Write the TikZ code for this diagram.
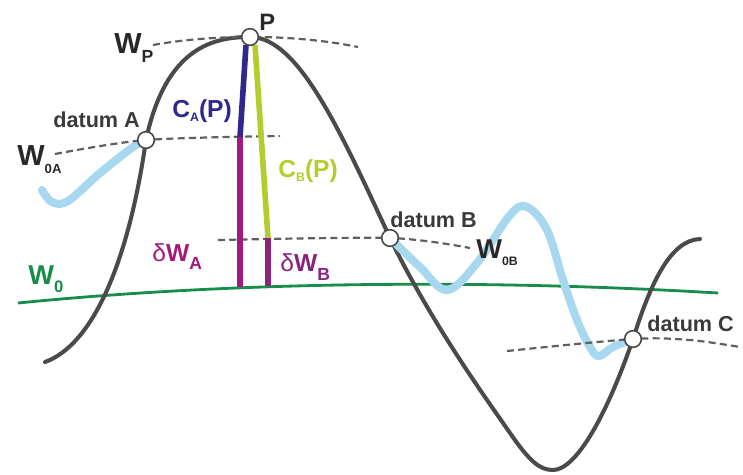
\documentclass[tikz,border=0pt]{standalone}
\usepackage{fontspec}
\setmainfont{Liberation Sans}
\definecolor{geoidgray}{RGB}{74,74,72}
\definecolor{dashgray}{RGB}{95,95,95}
\definecolor{levelgreen}{RGB}{24,140,74}
\definecolor{wigglyblue}{RGB}{168,216,240}
\definecolor{capblue}{RGB}{48,40,140}
\definecolor{cbgreen}{RGB}{182,204,46}
\definecolor{dwmagenta}{RGB}{164,26,124}
\definecolor{dwpurple}{RGB}{136,36,128}
\definecolor{txtgray}{RGB}{40,40,40}
% subscript: size, drop (pt), text
\newcommand{\sbs}[3]{{\fontsize{#1}{#1}\selectfont\raisebox{-#2pt}{#3}}}
\tikzset{
    datum/.style={circle,draw=geoidgray,fill=white,line width=0.9pt,minimum size=9.5pt,inner sep=0pt},
    level/.style={dashgray,line width=1.25pt,dash pattern=on 4pt off 2.4pt},
    lbl/.style={anchor=base west,inner sep=0pt,text=txtgray},
    bigw/.style={font=\bfseries\fontsize{16.5}{18}\selectfont},
    dtxt/.style={text={rgb,255:red,58;green,58;blue,58},font=\bfseries\fontsize{12.3}{13}\selectfont}
}
\begin{document}
\begin{tikzpicture}[x=0.02cm,y=-0.02cm]
        \useasboundingbox (0,0) rectangle (743,474);
        % points
            \foreach \n/\x/\y in {P/250/37,A/146/140,B/390/238,C/633/339}{
                \coordinate (\n) at (\x,\y);
            }
            \coordinate (levA) at (240,137);
            \coordinate (levB) at (268,238);
            \coordinate (footA) at (240,287);
            \coordinate (footB) at (268,286);
            \coordinate (topA) at (246,45);
            \coordinate (topB) at (255,45);
        % reference surface
            \draw[levelgreen,line width=1.6pt] (18,303) .. controls (250,280) and (500,280) .. (718,293);
        % geoid profile
            \draw[geoidgray,line width=2.3pt,line cap=round] (45,362)
                .. controls (92,345) and (128,265) .. (A)
                .. controls (166,46) and (215,37) .. (P)
                .. controls (298,37) and (340,130) .. (B)
                .. controls (430,320) and (480,390) .. (510,433)
                .. controls (530,462) and (540,470) .. (553,470)
                .. controls (575,470) and (605,420) .. (C)
                .. controls (650,285) and (670,240) .. (700,239);
        % local levels
            \draw[wigglyblue,line width=4.6pt,line cap=round] plot[smooth,tension=0.6] coordinates {
                (42,190) (52,202) (68,201) (100,173) (133,147) (A)};
            \draw[wigglyblue,line width=4.6pt,line cap=round] plot[smooth,tension=0.6] coordinates {
                (B) (420,267) (447,290) (477,263) (510,215) (527,207) (547,230) (563,280)
                (577,320) (590,347) (599,356) (613,347) (C)};
            \draw[level] (153,45) .. controls (220,33) and (300,35) .. (358,47);
            \draw[level] plot[smooth] coordinates {(55,154) (A) (280,136)};
            \draw[level] plot[smooth] coordinates {(218,240) (B) (470,248)};
            \draw[level] plot[smooth] coordinates {(507,351) (C) (690,340) (740,347)};
        % heights
            \draw[capblue,line width=3.2pt] (levA) -- (topA);
            \draw[dwmagenta,line width=3.2pt] (footA) -- (levA);
            \draw[cbgreen,line width=3.2pt] (levB) -- (topB);
            \draw[dwpurple,line width=3.2pt] (footB) -- (levB);
        % datum points
            \foreach \n in {P,A,B,C}{
                \node[datum] (d\n) at (\n) {};
            }
        % labels
            \node[lbl,font=\bfseries\fontsize{13.5}{14}\selectfont] (lP) at (259,30) {P};
            \node[lbl,bigw] (lWP) at (114,53) {W\sbs{10}{5.5}{P}};
            \node[lbl,dtxt] (lA) at (53,127) {datum A};
            \node[lbl,bigw] (lW0A) at (17,165) {W\sbs{7.5}{5}{0A}};
            \node[lbl,text=capblue,font=\bfseries\fontsize{14}{15}\selectfont] (lCA) at (172,117) {C\sbs{7}{2.5}{A}(P)};
            \node[lbl,text=cbgreen,font=\bfseries\fontsize{14}{15}\selectfont] (lCB) at (278,177) {C\sbs{7}{2.5}{B}(P)};
            \node[lbl,dtxt] (lB) at (390,227) {datum B};
            \node[lbl,bigw,font=\bfseries\fontsize{15.5}{17}\selectfont] (lW0B) at (476,258) {W\sbs{7}{4}{0B}};
            \node[lbl,dtxt] (lC) at (647,331) {datum C};
            \node[lbl,text=levelgreen,font=\bfseries\fontsize{15.5}{17}\selectfont] (lW0) at (28,284) {W\sbs{9.5}{5}{0}};
            \node[lbl,text=dwmagenta,font=\bfseries\fontsize{14}{15}\selectfont] (ldWA) at (152,261) {{\mdseries δ}W\sbs{10}{5}{A}};
            \node[lbl,text=dwpurple,font=\bfseries\fontsize{14}{15}\selectfont] (ldWB) at (280,271) {{\mdseries δ}W\sbs{10}{5.5}{B}};
        \end{tikzpicture}
\end{document}
